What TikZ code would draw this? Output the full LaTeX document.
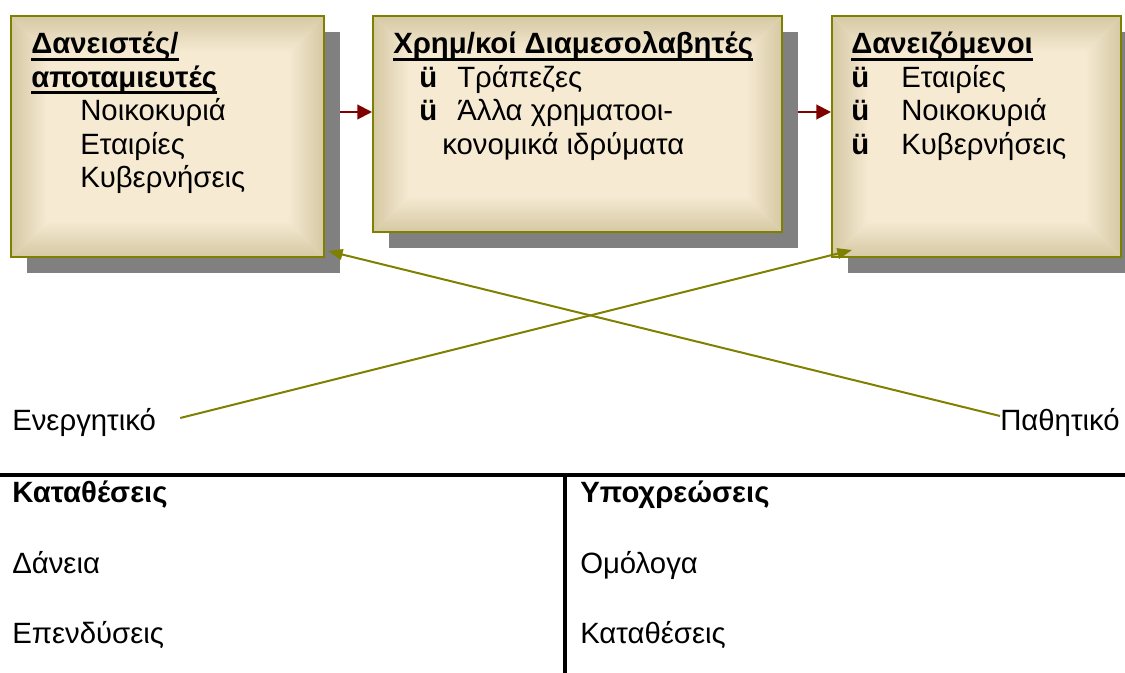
\documentclass[tikz,border=0pt]{standalone}
\usepackage{fontspec}
\setmainfont{Liberation Sans}
\usetikzlibrary{arrows.meta,positioning,calc,backgrounds,shadows}
\definecolor{boxedge}{HTML}{808000}
\definecolor{boxlight}{HTML}{F6EAD3}
\definecolor{boxdark}{HTML}{D5C8A3}
\definecolor{flowred}{HTML}{800000}
\definecolor{shadegray}{HTML}{808080}
\newcommand\boxfont{\fontsize{22}{26}\selectfont}
\newcommand\ulinetext[1]{\setbox0\hbox{#1}\rlap{\rule[-5pt]{\wd0}{2.2pt}}\box0}
% darker band along the four edges of a box
\newcommand\glowframe{%
  \coordinate (gnw) at (path picture bounding box.north west);
  \coordinate (gne) at (path picture bounding box.north east);
  \coordinate (gsw) at (path picture bounding box.south west);
  \coordinate (gse) at (path picture bounding box.south east);
  \shade[left color=boxdark,right color=boxlight] (gsw) -- (gnw) -- ($(gnw)+(36,36)$) -- ($(gsw)+(36,-36)$) -- cycle;
  \shade[left color=boxlight,right color=boxdark] (gse) -- (gne) -- ($(gne)+(-36,36)$) -- ($(gse)+(-36,-36)$) -- cycle;
  \shade[top color=boxdark,bottom color=boxlight] (gnw) -- (gne) -- ($(gne)+(-36,36)$) -- ($(gnw)+(36,36)$) -- cycle;
  \shade[top color=boxlight,bottom color=boxdark] (gsw) -- (gse) -- ($(gse)+(-36,-36)$) -- ($(gsw)+(36,-36)$) -- cycle;
}

\begin{document}
\begin{tikzpicture}[x=0.75pt,y=-0.75pt,
  panel/.style={draw=boxedge,line width=1.5pt,fill=boxlight,inner sep=0pt,path picture={\glowframe},
    general shadow={fill=shadegray,shadow xshift=12pt,shadow yshift=-12pt}},
  head/.style={font=\boxfont\bfseries,anchor=base west,inner sep=0pt},
  item/.style={font=\boxfont,anchor=base west,inner sep=0pt},
  tick/.style={font=\boxfont\bfseries,anchor=base west,inner sep=0pt},
  flow/.style={draw=flowred,line width=1.5pt,-{Triangle[length=11pt,width=11pt]}},
  link/.style={draw=boxedge,line width=1.5pt,-{Triangle[length=11pt,width=8pt]}},
  rule/.style={line width=3pt}
]
\useasboundingbox (0,0) rectangle (1125,673);
% the three boxes
\node[panel,minimum width=234.75pt,minimum height=180.75pt] (b1) at (167.5,136.5) {};
\node[panel,minimum width=306.75pt,minimum height=162pt] (b2) at (577.5,124) {};
\node[panel,minimum width=216.75pt,minimum height=180.75pt] (b3) at (976.5,136.5) {};
\begin{scope}[on background layer]
\draw[flow] ($(b1.north east)+(0,97)$) -- ($(b2.north west)+(0,97)$);
\draw[flow] ($(b2.north east)+(0,97)$) -- ($(b3.north west)+(0,97)$);
\end{scope}
% lenders
\node[head] (b1h1) at ($(b1.north west)+(21,39)$) {\ulinetext{Δανειστές/}};
\node[head] (b1h2) at ($(b1.north west)+(21,72.5)$) {\ulinetext{αποταμιευτές}};
\foreach \t [count=\i] in {Νοικοκυριά,Εταιρίες,Κυβερνήσεις}
  \node[item] (b1i\i) at ($(b1.north west)+(70,{72.5+33.5*\i})$) {\t};
% intermediaries
\node[head] (b2h) at ($(b2.north west)+(21,39)$) {\ulinetext{Χρημ/κοί Διαμεσολαβητές}};
\node[tick] (b2c1) at ($(b2.north west)+(47,72.5)$) {ü};
\node[item] (b2i1) at ($(b2.north west)+(85,72.5)$) {Τράπεζες};
\node[tick] (b2c2) at ($(b2.north west)+(47,106)$) {ü};
\node[item] (b2i2) at ($(b2.north west)+(85,106)$) {Άλλα χρηματοοι-};
\node[item] (b2i3) at ($(b2.north west)+(70,139.5)$) {κονομικά ιδρύματα};
% borrowers
\node[head] (b3h) at ($(b3.north west)+(20,39)$) {\ulinetext{Δανειζόμενοι}};
\foreach \t [count=\i] in {Εταιρίες,Νοικοκυριά,Κυβερνήσεις}{
  \node[tick] (b3c\i) at ($(b3.north west)+(20,{39+33.5*\i})$) {ü};
  \node[item] (b3i\i) at ($(b3.north west)+(70,{39+33.5*\i})$) {\t};
}
% assets / liabilities
\node[item] (energ) at (12,431) {Ενεργητικό};
\node[item] (pathit) at (1000,431) {Παθητικό};
\coordinate (enEnd) at ($(b3.south west)+(21,-8)$);
\coordinate (paEnd) at ($(b1.south east)+(3,-7)$);
\draw[link] ($(energ.base east)+(24,-13)$) -- (enEnd);
\draw[link] ($(pathit.base west)+(0,-15)$) -- (paEnd);
% balance sheet
\coordinate (hl) at (0,475);
\coordinate (hr) at (1125,475);
\coordinate (vt) at (564.5,475);
\coordinate (vb) at (564.5,673);
\draw[rule] (hl) -- (hr);
\draw[rule] (vt) -- (vb);
\node[head] (as0) at (12,503) {Καταθέσεις};
\node[head] (li0) at (580,503) {Υποχρεώσεις};
\foreach \a/\l [count=\i] in {Δάνεια/Ομόλογα,Επενδύσεις/Καταθέσεις}{
  \node[item] (as\i) at (12,{503+70*\i}) {\a};
  \node[item] (li\i) at (580,{503+70*\i}) {\l};
}
\end{tikzpicture}
\end{document}
